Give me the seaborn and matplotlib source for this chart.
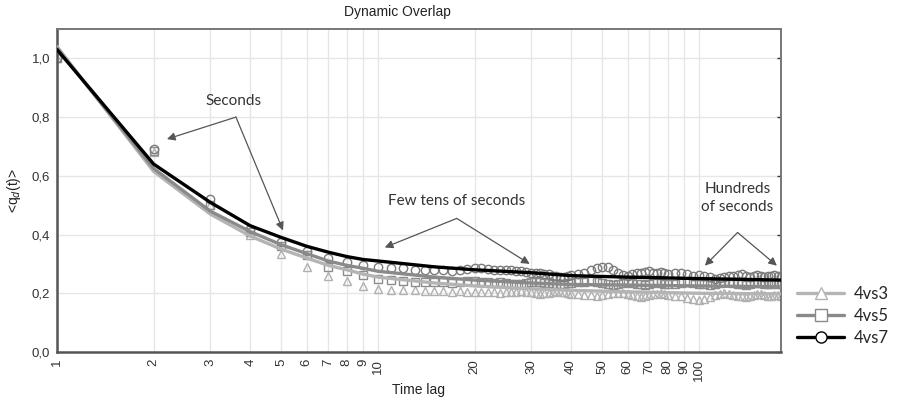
import numpy as np
import pandas as pd
import matplotlib
matplotlib.use('Agg')
import matplotlib.pyplot as plt
import seaborn as sns
from matplotlib.lines import Line2D
from matplotlib.ticker import FixedLocator, FuncFormatter, NullLocator

# fitted curves (read at selected lags)
fit_lags = [1, 2, 3, 4, 5, 6, 7, 8, 9, 10, 15, 20, 30, 40, 60, 100, 180]
fit_4vs3 = [1.04, 0.615, 0.47, 0.395, 0.35, 0.32, 0.295, 0.28, 0.265, 0.255,
            0.235, 0.225, 0.215, 0.21, 0.205, 0.2, 0.198]
fit_4vs5 = [1.035, 0.625, 0.48, 0.41, 0.365, 0.335, 0.31, 0.295, 0.285, 0.275,
            0.255, 0.245, 0.235, 0.23, 0.228, 0.225, 0.222]
fit_4vs7 = [1.03, 0.64, 0.51, 0.43, 0.39, 0.36, 0.34, 0.325, 0.315, 0.31,
            0.29, 0.28, 0.27, 0.26, 0.255, 0.25, 0.245]

# measured points
pt_lags = list(range(1, 41)) + list(range(42, 81, 2)) + list(range(84, 181, 4))
pts_4vs7 = [1.0, 0.69, 0.52, 0.42, 0.375, 0.345, 0.32, 0.305, 0.295, 0.29,
            0.285, 0.285, 0.28, 0.28, 0.28, 0.278, 0.275, 0.28, 0.283, 0.285,
            0.285, 0.283, 0.28, 0.28, 0.278, 0.28, 0.276, 0.275, 0.272, 0.27,
            0.27, 0.268, 0.265, 0.265, 0.26, 0.258, 0.255, 0.255, 0.26, 0.262,
            0.265, 0.27, 0.278, 0.285, 0.29, 0.288, 0.28, 0.27, 0.262, 0.26,
            0.265, 0.27, 0.268, 0.272, 0.275, 0.27, 0.268, 0.272, 0.27, 0.265,
            0.268, 0.27, 0.265, 0.26, 0.262, 0.258, 0.255, 0.25, 0.252, 0.255,
            0.26, 0.258, 0.262, 0.265, 0.26, 0.255, 0.258, 0.262, 0.26, 0.255,
            0.258, 0.26, 0.262, 0.258, 0.256]
pts_4vs5 = [1.0, 0.685, 0.5, 0.41, 0.36, 0.33, 0.29, 0.277, 0.262, 0.248,
            0.245, 0.243, 0.24, 0.24, 0.238, 0.238, 0.236, 0.24, 0.242, 0.243,
            0.24, 0.238, 0.235, 0.237, 0.235, 0.233, 0.232, 0.232, 0.235, 0.238,
            0.24, 0.238, 0.236, 0.235, 0.233, 0.232, 0.23, 0.232, 0.235, 0.236,
            0.238, 0.24, 0.242, 0.24, 0.236, 0.232, 0.228, 0.23, 0.235, 0.238,
            0.236, 0.232, 0.23, 0.228, 0.232, 0.236, 0.238, 0.235, 0.232, 0.23,
            0.232, 0.235, 0.238, 0.236, 0.232, 0.23, 0.228, 0.232, 0.236, 0.238,
            0.24, 0.236, 0.232, 0.23, 0.228, 0.232, 0.235, 0.238, 0.236, 0.233,
            0.23, 0.232, 0.235, 0.232, 0.23]
pts_4vs3 = [1.0, 0.68, 0.5, 0.40, 0.335, 0.29, 0.26, 0.243, 0.226, 0.215,
            0.212, 0.21, 0.21, 0.208, 0.208, 0.207, 0.206, 0.207, 0.205, 0.205,
            0.204, 0.205, 0.203, 0.202, 0.203, 0.204, 0.205, 0.207, 0.205, 0.203,
            0.2, 0.198, 0.2, 0.202, 0.205, 0.207, 0.205, 0.203, 0.2, 0.198,
            0.197, 0.195, 0.193, 0.192, 0.195, 0.198, 0.2, 0.202, 0.2, 0.197,
            0.195, 0.19, 0.188, 0.19, 0.193, 0.196, 0.198, 0.2, 0.198, 0.195,
            0.192, 0.19, 0.185, 0.18, 0.178, 0.182, 0.188, 0.193, 0.197, 0.2,
            0.198, 0.195, 0.192, 0.19, 0.188, 0.19, 0.193, 0.196, 0.198, 0.195,
            0.192, 0.19, 0.193, 0.195, 0.192]

series = ['4vs3', '4vs5', '4vs7']
line_colors = {'4vs3': '#b4b4b4', '4vs5': '#8a8a8a', '4vs7': '#000000'}
pt_colors = {'4vs3': '#b0b0b0', '4vs5': '#8c8c8c', '4vs7': '#7a7a7a'}
markers = {'4vs3': '^', '4vs5': 's', '4vs7': 'o'}

x_ticks = [1, 2, 3, 4, 5, 6, 7, 8, 9, 10, 20, 30, 40, 50, 60, 70, 80, 90, 100]
y_ticks = [0.0, 0.2, 0.4, 0.6, 0.8, 1.0]

fits = pd.DataFrame({'lag': fit_lags * 3,
                     'q': fit_4vs3 + fit_4vs5 + fit_4vs7,
                     'series': sum([[s] * len(fit_lags) for s in series], [])})
pts = pd.DataFrame({'lag': pt_lags * 3,
                    'q': pts_4vs3 + pts_4vs5 + pts_4vs7,
                    'series': sum([[s] * len(pt_lags) for s in series], [])})

sns.set_style('white')
plt.rcParams['font.family'] = ['Liberation Sans', 'DejaVu Sans']

fig = plt.figure(figsize=(8.98, 4.0), dpi=100)
ax = fig.add_axes([0.0635, 0.12, 0.806, 0.8075])

for s in series:
    d = pts[pts['series'] == s]
    sns.lineplot(data=d, x='lag', y='q', ax=ax, linestyle='', marker=markers[s],
                 markersize=6, mfc='none', mec=pt_colors[s], mew=1.0,
                 errorbar=None, legend=False, zorder=2)
for s in series:
    d = fits[fits['series'] == s]
    sns.lineplot(data=d, x='lag', y='q', ax=ax, color=line_colors[s],
                 linewidth=2.4, errorbar=None, legend=False, zorder=3)

ax.set_xscale('log')
ax.set_xlim(1, 180)
ax.set_ylim(0, 1.1)
ax.xaxis.set_major_locator(FixedLocator(x_ticks))
ax.xaxis.set_minor_locator(NullLocator())
ax.xaxis.set_major_formatter(FuncFormatter(lambda v, p: '%d' % v))
ax.set_yticks(y_ticks)
ax.yaxis.set_major_formatter(FuncFormatter(lambda v, p: ('%.1f' % v).replace('.', ',')))
ax.grid(True, color='#e6e6e6', linewidth=1.0, zorder=0)
ax.set_axisbelow(True)
plt.setp(ax.get_xticklabels(), rotation=90)
ax.tick_params(axis='both', labelsize=9.5, colors='#333333', length=3,
               direction='out', width=1, pad=2)
ax.tick_params(axis='y', which='major', right=True)
for tk in ax.yaxis.get_major_ticks():
    tk.tick2line.set_marker(0)  # right-side ticks point inward
for side in ['left', 'bottom']:
    ax.spines[side].set_color('#555555')
    ax.spines[side].set_linewidth(1.8)
for side in ['top', 'right']:
    ax.spines[side].set_color('#777777')
    ax.spines[side].set_linewidth(1.4)

ax.set_xlabel('Time lag', fontsize=10, color='#222222')
ax.xaxis.set_label_coords(0.5, -0.118)
ax.xaxis.label.set_va('center')
ax.set_ylabel('<q$_d$(t)>', fontsize=10, color='#222222', labelpad=6)
fig.text(397 / 898, 1 - 12 / 400, 'Dynamic Overlap', ha='center', va='center',
         fontsize=10, color='#222222')

ann_font = dict(fontsize=11, color='#333333', family=['Lato', 'DejaVu Sans'])
arrow = dict(arrowstyle='-|>', color='#555555', lw=0.9, mutation_scale=12,
             shrinkA=0, shrinkB=0)
ax.text(3.55, 0.855, 'Seconds', ha='center', va='center', **ann_font)
ax.annotate('', xy=(2.2, 0.725), xytext=(3.61, 0.80), arrowprops=arrow)
ax.annotate('', xy=(5.06, 0.414), xytext=(3.61, 0.80), arrowprops=arrow)
ax.text(17.6, 0.515, 'Few tens of seconds', ha='center', va='center', **ann_font)
ax.annotate('', xy=(10.5, 0.356), xytext=(17.6, 0.455), arrowprops=arrow)
ax.annotate('', xy=(29.7, 0.30), xytext=(17.6, 0.455), arrowprops=arrow)
ax.text(132, 0.525, 'Hundreds\nof seconds', ha='center', va='center',
        linespacing=1.4, **ann_font)
ax.annotate('', xy=(104.4, 0.294), xytext=(132, 0.407), arrowprops=arrow)
ax.annotate('', xy=(175, 0.294), xytext=(132, 0.407), arrowprops=arrow)

handles = [Line2D([0], [0], color=line_colors[s], lw=2.4, marker=markers[s],
                  markersize=8, mfc='white',
                  mec='#000000' if s == '4vs7' else line_colors[s], mew=1.0)
           for s in series]
fig.legend(handles, series, loc='center left', bbox_to_anchor=(0.888, 0.21),
           frameon=False, handlelength=2.8, labelspacing=0.35,
           handletextpad=0.6, borderpad=0, borderaxespad=0,
           prop={'family': ['Lato', 'DejaVu Sans'], 'size': 12})

fig.savefig('out.png', dpi=100)
